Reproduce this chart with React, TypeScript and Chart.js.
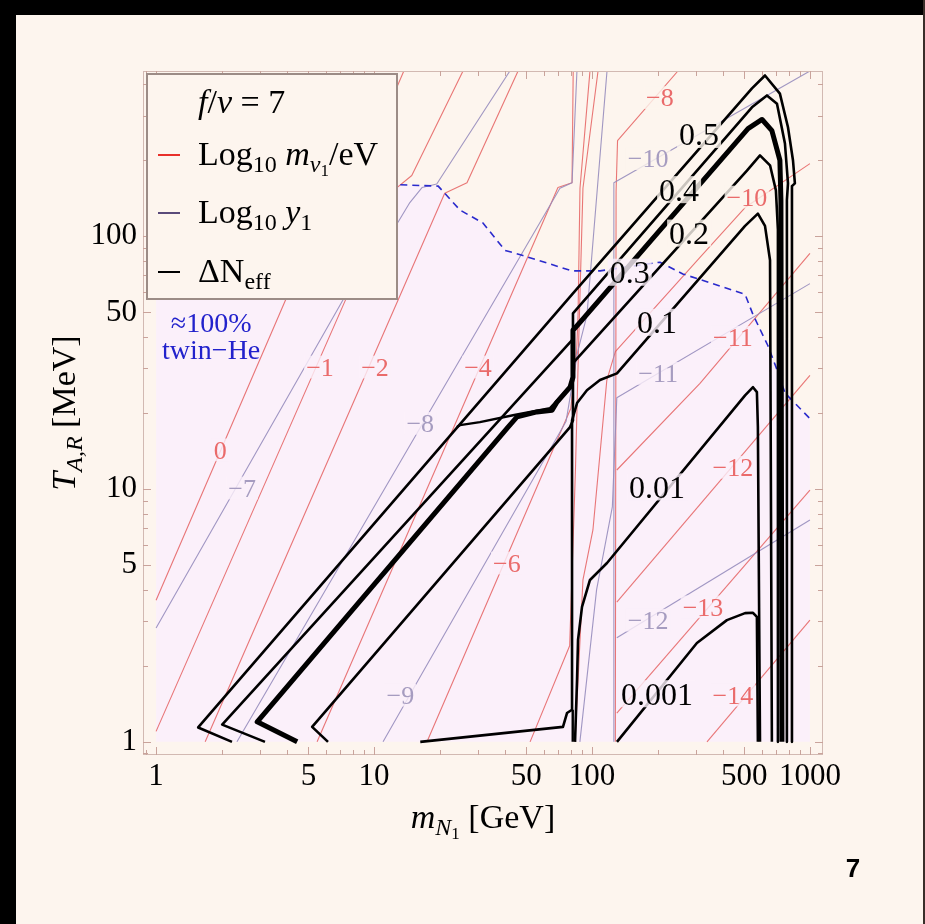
import React, { useEffect, useRef } from 'react';
import { Chart, registerables } from 'chart.js';

Chart.register(...registerables);

// ---------------- axes ----------------
const X_TICKS = [1, 5, 10, 50, 100, 500, 1000];
const Y_TICKS = [1, 5, 10, 50, 100];
const X_MIN = 0.871;
const X_MAX = 1148;
const Y_MIN = 0.887;
const Y_MAX = 451;

// ---------------- twin-He boundary ----------------
const HE_X = [1, 13.2, 19.7, 24.8, 31.6, 39.9, 48.2, 81, 109, 134, 205, 261, 504, 548, 641, 713, 768, 1000];
const HE_Y = [160, 160, 158, 127, 113, 88, 84, 73, 73, 75, 79, 71, 59, 49, 37, 29, 24, 19];

// ---------------- Log10 m_nu1 / eV (red) ----------------
const R0_X = [1, 6.43, 8.3, 13.7];
const R0_Y = [3.63, 150, 165, 451];
const R1_X = [1, 12.3, 14.9, 25.6];
const R1_Y = [1.1, 152, 174, 451];
const R2_X = [1.68, 21.1, 26.7, 45.8];
const R2_Y = [1, 148, 163, 451];
const R4_X = [5.48, 69.8, 81, 82];
const R4_Y = [1, 156, 163, 451];
const R6_X = [17.5, 80, 85, 86.3, 88.1, 97.9];
const R6_Y = [1, 20.9, 35, 48.7, 155, 451];
const R8A_X = [52, 79, 84, 87, 90.9, 106.6];
const R8A_Y = [1, 2.4, 12, 40, 155, 451];
const R8B_X = [128, 129, 131, 248];
const R8B_Y = [1, 150, 239, 451];
const R10_X = [83.6, 90.9, 101, 117, 128, 313, 504, 1000];
const R10_Y = [1, 4.37, 6.89, 27, 35, 82.6, 130, 194];
const R11_X = [130, 313, 1000];
const R11_Y = [11.9, 26.2, 85.7];
const R12_X = [130, 1000];
const R12_Y = [3.57, 28.2];
const R13_X = [130, 1000];
const R13_Y = [1.3, 9.9];
const R14_X = [337, 1000];
const R14_Y = [1, 3.03];

// ---------------- Log10 y1 (gray) ----------------
const G7_X = [1, 7.2, 12.9, 14.6, 16.6, 19.4, 42];
const G7_Y = [2.82, 56, 114, 136, 156, 161, 451];
const G8_X = [2.35, 71.3, 81, 85.3];
const G8_Y = [1, 155, 163, 451];
const G9_X = [11, 76, 86, 94.8, 117.2];
const G9_Y = [1, 18.5, 35, 48.7, 451];
const G10_X = [126, 126, 1000];
const G10_Y = [1, 163, 451];
const G11_X = [88, 105, 124, 130, 1000];
const G11_Y = [1, 4, 8.5, 23, 65];
const G12_X = [130, 1000];
const G12_Y = [2.58, 7.54];

// ---------------- Delta N_eff (black) ----------------
const N05_X = [2.23, 1.56, 81.8, 542, 622, 728, 793, 836, 853, 827, 827];
const N05_Y = [1, 1.14, 59.5, 385, 433, 367, 270, 200, 162, 158, 1];
const N04_X = [3.16, 2.01, 81.8, 81.8, 542, 635, 706, 768, 793, 784, 784];
const N04_Y = [1, 1.17, 39.2, 49.6, 324, 361, 335, 233, 162, 139, 1];
const N03_X = [4.44, 2.91, 41.2, 45.3, 55.9, 65.6, 69.1, 79.3, 81.8, 81.8, 88.1, 520, 603, 669, 728, 736, 744];
const N03_Y = [1, 1.2, 17.6, 19.3, 20.2, 20.5, 22.1, 25.3, 27.7, 42.5, 45.7, 267, 290, 262, 200, 139, 1];
const N02_X = [6.15, 5.2, 79.3, 81.8, 81.8, 514, 590, 656, 698, 713, 713];
const N02_Y = [1, 1.146, 17.6, 18.7, 31.5, 182, 209, 191, 152, 106, 1];
const N01_X = [16.3, 73.6, 76.8, 81.0, 81.0, 85.4, 94.8, 108.8, 130.2, 504, 577, 622, 656, 669];
const N01_Y = [1, 1.146, 1.3, 1.34, 18.7, 21.9, 24.6, 27.0, 28.7, 110, 123, 110, 80.4, 1];
const N001_X = [83.6, 85.4, 86.3, 90.0, 97.9, 117.2, 504, 548, 571, 577, 590];
const N001_Y = [1, 1.76, 2.53, 3.42, 4.37, 5.1, 23.5, 25.3, 24.2, 17.6, 1];
const N0001_X = [130.2, 303, 416, 504, 548, 571, 577];
const N0001_Y = [1, 2.46, 3.03, 3.23, 3.24, 3.12, 1];
const NSTEP_X = [24.0, 24.8, 30.6, 43.4, 64.2, 71.3, 81.8, 81.8, 81.6, 81.6];
const NSTEP_Y = [17.6, 17.9, 18.4, 19.6, 20.9, 23.1, 26.2, null, 1, 1.34];

// ---------------- contour labels ----------------
const BLACK_LABELS = ['0.5', '0.4', '0.3', '0.2', '0.1', '0.01', '0.001'];
const BLACK_LABEL_X = [310, 251, 149, 279, 199, 199, 199];
const BLACK_LABEL_Y = [253, 153, 72.1, 103, 45.7, 10.2, 1.55];
const RED_LABELS = ['0', '−1', '−2', '−4', '−6', '−8', '−10', '−11', '−12', '−13', '−14'];
const RED_LABEL_X = [1.97, 5.65, 10.1, 30.0, 40.7, 205, 514, 443, 443, 323, 443];
const RED_LABEL_Y = [14.3, 30.4, 30.4, 30.4, 5.1, 354, 143, 39.9, 12.2, 3.42, 1.53];
const GRAY_LABELS = ['−7', '−8', '−9', '−10', '−11', '−12'];
const GRAY_LABEL_X = [2.48, 16.3, 13.2, 181, 201, 181];
const GRAY_LABEL_Y = [10.1, 18.2, 1.53, 203, 28.7, 3.03];
const HE_TEXT = ['≈100%', 'twin−He'];
const HE_TEXT_X = [1.79, 1.79];
const HE_TEXT_Y = [45.3, 35.4];

// ---------------- styles ----------------
const CREAM = '#fdf5ee';
const LAVENDER = '#fbf0fa';
const RED = 'rgba(228,86,86,0.8)';
const GRAY = 'rgba(150,140,188,0.9)';
const RED_TEXT = '#ea6b6b';
const GRAY_TEXT = '#a69cc0';
const SERIF = '"Liberation Serif", "Times New Roman", serif';

type Run = { t: string; it?: boolean; s?: number; dy?: number };

function drawRich(ctx: CanvasRenderingContext2D, runs: Run[], x: number, y: number, size: number, color: string, align: string) {
  const fontFor = (r: Run) => `${r.it ? 'italic ' : ''}${Math.round(size * (r.s ?? 1))}px ${SERIF}`;
  let total = 0;
  for (const r of runs) {
    ctx.font = fontFor(r);
    total += ctx.measureText(r.t).width;
  }
  let cx = align === 'center' ? x - total / 2 : x;
  ctx.fillStyle = color;
  ctx.textAlign = 'left';
  ctx.textBaseline = 'alphabetic';
  for (const r of runs) {
    ctx.font = fontFor(r);
    ctx.fillText(r.t, cx, y + (r.dy ?? 0) * size);
    cx += ctx.measureText(r.t).width;
  }
}

function heBoundary(x: number) {
  const lx = Math.log10(x);
  for (let i = 0; i < HE_X.length - 1; i++) {
    const a = Math.log10(HE_X[i]);
    const b = Math.log10(HE_X[i + 1]);
    if (lx >= a && lx <= b) {
      const t = b === a ? 0 : (lx - a) / (b - a);
      return Math.pow(10, Math.log10(HE_Y[i]) * (1 - t) + Math.log10(HE_Y[i + 1]) * t);
    }
  }
  return HE_Y[HE_Y.length - 1];
}

const pts = (xs: number[], ys: (number | null)[]) => xs.map((x, i) => ({ x, y: ys[i] }));

const figurePlugin = {
  id: 'figure',
  beforeDraw(chart: any) {
    const { ctx, width, height } = chart;
    ctx.save();
    ctx.fillStyle = CREAM;
    ctx.fillRect(0, 0, width, height);
    ctx.fillStyle = '#000';
    ctx.fillRect(0, 0, width, 15);
    ctx.fillRect(0, 0, 16, height);
    ctx.fillStyle = '#3a2f2a';
    ctx.fillRect(width - 2, 0, 2, height);
    ctx.restore();
  },
  beforeDatasetsDraw(chart: any) {
    const { ctx, chartArea: a, scales } = chart;
    const x = scales.x;
    const y = scales.y;
    ctx.save();
    ctx.beginPath();
    ctx.rect(a.left, a.top, a.right - a.left, a.bottom - a.top);
    ctx.clip();
    ctx.beginPath();
    ctx.moveTo(x.getPixelForValue(HE_X[0]), y.getPixelForValue(1));
    HE_X.forEach((v, i) => ctx.lineTo(x.getPixelForValue(v), y.getPixelForValue(HE_Y[i])));
    ctx.lineTo(x.getPixelForValue(HE_X[HE_X.length - 1]), y.getPixelForValue(1));
    ctx.closePath();
    ctx.fillStyle = LAVENDER;
    ctx.fill();
    ctx.restore();
  },
  afterDatasetsDraw(chart: any) {
    const { ctx, chartArea: a, scales } = chart;
    const x = scales.x;
    const y = scales.y;
    ctx.save();
    // frame
    ctx.strokeStyle = '#d2b9b2';
    ctx.lineWidth = 1;
    ctx.strokeRect(a.left + 0.5, a.top + 0.5, a.right - a.left - 1, a.bottom - a.top - 1);
    // ticks
    ctx.strokeStyle = '#c9a39b';
    const xv: number[] = [];
    for (let d = 0.1; d <= 1000; d *= 10) for (let k = 1; k < 10; k++) xv.push(Math.round(d * k * 1000) / 1000);
    xv.forEach((v) => {
      if (v < X_MIN || v > X_MAX) return;
      const p = Math.round(x.getPixelForValue(v)) + 0.5;
      const len = X_TICKS.includes(v) ? 8 : 5;
      ctx.beginPath();
      ctx.moveTo(p, a.bottom);
      ctx.lineTo(p, a.bottom - len);
      ctx.moveTo(p, a.top);
      ctx.lineTo(p, a.top + len);
      ctx.stroke();
    });
    xv.forEach((v) => {
      if (v < Y_MIN || v > Y_MAX) return;
      const p = Math.round(y.getPixelForValue(v)) + 0.5;
      const len = Y_TICKS.includes(v) ? 8 : 5;
      ctx.beginPath();
      ctx.moveTo(a.left, p);
      ctx.lineTo(a.left + len, p);
      ctx.moveTo(a.right, p);
      ctx.lineTo(a.right - len, p);
      ctx.stroke();
    });

    const label = (text: string, vx: number, vy: number, size: number, color: string) => {
      const px = x.getPixelForValue(vx);
      const py = y.getPixelForValue(vy);
      ctx.font = `${size}px ${SERIF}`;
      const w = ctx.measureText(text).width;
      const h = size * 0.72;
      const bg = vy < heBoundary(vx) && vx <= 1000 ? LAVENDER : CREAM;
      ctx.globalAlpha = 0.8;
      ctx.fillStyle = bg;
      ctx.fillRect(px - w / 2 - 2, py - h / 2 - 2, w + 4, h + 4);
      ctx.globalAlpha = 1;
      ctx.fillStyle = color;
      ctx.textAlign = 'center';
      ctx.textBaseline = 'alphabetic';
      ctx.fillText(text, px, py + size * 0.34);
    };
    RED_LABELS.forEach((t, i) => label(t, RED_LABEL_X[i], RED_LABEL_Y[i], 26, RED_TEXT));
    GRAY_LABELS.forEach((t, i) => label(t, GRAY_LABEL_X[i], GRAY_LABEL_Y[i], 26, GRAY_TEXT));
    BLACK_LABELS.forEach((t, i) => label(t, BLACK_LABEL_X[i], BLACK_LABEL_Y[i], 32, '#000'));

    ctx.font = `28px ${SERIF}`;
    ctx.fillStyle = '#2222cc';
    ctx.textAlign = 'center';
    ctx.textBaseline = 'alphabetic';
    HE_TEXT.forEach((t, i) => ctx.fillText(t, x.getPixelForValue(HE_TEXT_X[i]), y.getPixelForValue(HE_TEXT_Y[i]) + 9));
    ctx.restore();
  },
  afterDraw(chart: any) {
    const { ctx } = chart;
    ctx.save();
    // legend box
    ctx.fillStyle = CREAM;
    ctx.fillRect(147, 74, 250, 225);
    ctx.strokeStyle = '#9c8c86';
    ctx.lineWidth = 2;
    ctx.strokeRect(147, 74, 250, 225);
    const rows: { c: string | null; y: number; runs: Run[] }[] = [
      { c: null, y: 113, runs: [{ t: 'f', it: true }, { t: '/' }, { t: 'v', it: true }, { t: ' = 7' }] },
      {
        c: '#e8302a',
        y: 165,
        runs: [{ t: 'Log' }, { t: '10', s: 0.7, dy: 0.22 }, { t: ' ' }, { t: 'm', it: true }, { t: 'ν', it: true, s: 0.7, dy: 0.22 }, { t: '1', s: 0.5, dy: 0.33 }, { t: '/eV' }],
      },
      { c: '#5a4a7a', y: 223, runs: [{ t: 'Log' }, { t: '10', s: 0.7, dy: 0.22 }, { t: ' ' }, { t: 'y', it: true }, { t: '1', s: 0.7, dy: 0.22 }] },
      { c: '#000', y: 282, runs: [{ t: 'ΔN' }, { t: 'eff', s: 0.7, dy: 0.22 }] },
    ];
    rows.forEach((r) => {
      if (r.c) {
        ctx.strokeStyle = r.c;
        ctx.lineWidth = 2;
        ctx.beginPath();
        ctx.moveTo(158, r.y - 10);
        ctx.lineTo(180, r.y - 10);
        ctx.stroke();
      }
      drawRich(ctx, r.runs, 198, r.y, 34, '#000', 'left');
    });
    // axis titles
    drawRich(ctx, [{ t: 'm', it: true }, { t: 'N', it: true, s: 0.7, dy: 0.22 }, { t: '1', s: 0.5, dy: 0.33 }, { t: ' [GeV]' }], 483, 828, 34, '#000', 'center');
    ctx.save();
    ctx.translate(75, 413);
    ctx.rotate(-Math.PI / 2);
    drawRich(ctx, [{ t: 'T', it: true }, { t: 'A,R', it: true, s: 0.7, dy: 0.22 }, { t: ' [MeV]' }], 0, 0, 34, '#000', 'center');
    ctx.restore();
    // page number
    ctx.font = 'bold 26px "Liberation Sans", Arial, sans-serif';
    ctx.fillStyle = '#000';
    ctx.textAlign = 'center';
    ctx.textBaseline = 'middle';
    ctx.fillText('7', 853, 870);
    ctx.restore();
  },
};

export default function App() {
  const ref = useRef<HTMLCanvasElement | null>(null);
  useEffect(() => {
    if (!ref.current) return;
    const line = (xs: number[], ys: (number | null)[], color: string, width: number, order: number, extra: any = {}) => ({
      type: 'line',
      data: pts(xs, ys),
      borderColor: color,
      borderWidth: width,
      pointRadius: 0,
      fill: false,
      tension: 0,
      spanGaps: false,
      order,
      borderJoinStyle: 'round',
      ...extra,
    });
    const reds = [
      [R0_X, R0_Y], [R1_X, R1_Y], [R2_X, R2_Y], [R4_X, R4_Y], [R6_X, R6_Y], [R8A_X, R8A_Y], [R8B_X, R8B_Y],
      [R10_X, R10_Y], [R11_X, R11_Y], [R12_X, R12_Y], [R13_X, R13_Y], [R14_X, R14_Y],
    ].map(([xs, ys]) => line(xs as number[], ys as number[], RED, 1.1, 50));
    const grays = [
      [G7_X, G7_Y], [G8_X, G8_Y], [G9_X, G9_Y], [G10_X, G10_Y], [G11_X, G11_Y], [G12_X, G12_Y],
    ].map(([xs, ys]) => line(xs as number[], ys as number[], GRAY, 1.1, 49));
    const blacks = [
      line(N05_X, N05_Y, '#000', 2.6, 10),
      line(N04_X, N04_Y, '#000', 2.6, 10),
      line(N03_X, N03_Y, '#000', 5, 10),
      line(N02_X, N02_Y, '#000', 2.6, 10),
      line(N01_X, N01_Y, '#000', 2.6, 10),
      line(N001_X, N001_Y, '#000', 2.6, 10),
      line(N0001_X, N0001_Y, '#000', 2.6, 10),
      line(NSTEP_X, NSTEP_Y, '#000', 2.4, 10),
    ];
    const he = line(HE_X.slice(1), HE_Y.slice(1), '#2a2acc', 1.6, 40, { borderDash: [7, 5] });

    const chart = new Chart(ref.current, {
      type: 'line',
      data: { datasets: [...blacks, he, ...grays, ...reds] as any },
      options: {
        responsive: false,
        animation: false,
        devicePixelRatio: 1,
        events: [],
        layout: { padding: { left: 0, right: 102, top: 71, bottom: 0 } },
        plugins: { legend: { display: false }, tooltip: { enabled: false }, title: { display: false } },
        scales: {
          x: {
            type: 'logarithmic',
            position: 'bottom',
            min: X_MIN,
            max: X_MAX,
            grid: { display: false, drawTicks: false },
            border: { display: false },
            ticks: {
              autoSkip: false,
              maxRotation: 0,
              minRotation: 0,
              padding: 3,
              color: '#000',
              font: { family: SERIF, size: 31 },
              callback: (v: any) => String(v),
            },
            afterBuildTicks: (s: any) => {
              s.ticks = X_TICKS.map((v) => ({ value: v }));
            },
            afterFit: (s: any) => {
              s.height = 169;
            },
          },
          y: {
            type: 'logarithmic',
            position: 'left',
            min: Y_MIN,
            max: Y_MAX,
            grid: { display: false, drawTicks: false },
            border: { display: false },
            ticks: {
              autoSkip: false,
              padding: 6,
              color: '#000',
              font: { family: SERIF, size: 31 },
              callback: (v: any) => String(v),
            },
            afterBuildTicks: (s: any) => {
              s.ticks = Y_TICKS.map((v) => ({ value: v }));
            },
            afterFit: (s: any) => {
              s.width = 143;
            },
          },
        },
      } as any,
      plugins: [figurePlugin],
    });
    return () => chart.destroy();
  }, []);

  return (
    <div style={{ position: 'absolute', left: 0, top: 0, width: 925, height: 924 }}>
      <canvas ref={ref} width={925} height={924} style={{ display: 'block', width: 925, height: 924 }} />
    </div>
  );
}
